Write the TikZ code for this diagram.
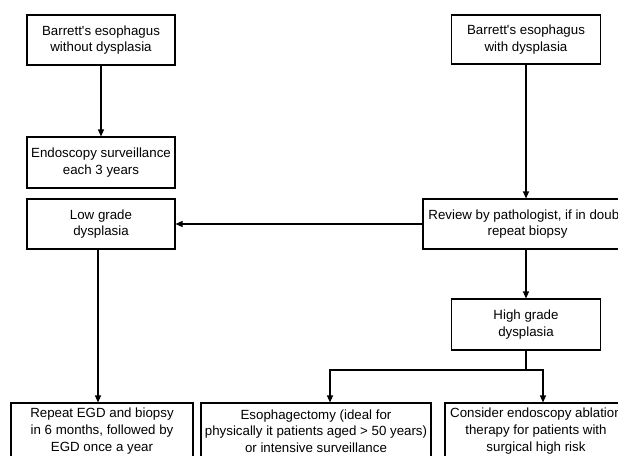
\documentclass[tikz,border=0pt]{standalone}
\usepackage{fontspec}
\setmainfont{Liberation Sans}
\usetikzlibrary{arrows.meta}

\begin{document}
\begin{tikzpicture}[x=1pt, y=-1pt, >={Triangle[length=7pt,width=6pt]},
  box/.style={draw, line width=1.1pt, align=center, inner sep=1pt,
    font=\fontsize{13.3}{16.7}\selectfont},
  flow/.style={->, line width=1.1pt}]
  \useasboundingbox (0,0) rectangle (618,455);
  \clip (0,0) rectangle (618,455);
  % Left column
  \node[box, minimum width=148pt, minimum height=50pt] (nodys) at (101,40)
    {Barrett\textquotesingle s esophagus\\without dysplasia};
  \node[box, minimum width=148pt, minimum height=51pt] (surv) at (101,162.5)
    {Endoscopy surveillance\\each 3 years};
  \node[box, minimum width=148pt, minimum height=50pt] (lowgr) at (101,224)
    {Low grade\\dysplasia};
  % Right column
  \node[box, minimum width=149pt, minimum height=49pt] (withdys) at (526,39.5)
    {Barrett\textquotesingle s esophagus\\with dysplasia};
  \node[box, minimum width=209pt, minimum height=50pt] (review) at (527.5,224)
    {Review by pathologist, if in doubt,\\repeat biopsy};
  \node[box, minimum width=149pt, minimum height=51pt] (highgr) at (526,324.5)
    {High grade\\dysplasia};
  % Bottom row
  \node[box, minimum width=182pt, minimum height=56pt] (repeat) at (102,431)
    {Repeat EGD and biopsy\\in 6 months, followed by\\EGD once a year};
  \node[box, minimum width=230pt, minimum height=56pt] (esoph) at (316,431)
    {Esophagectomy (ideal for\\physically it patients aged > 50 years)\\or intensive surveillance};
  \node[box, minimum width=182pt, minimum height=56pt] (ablat) at (536,431)
    {Consider endoscopy ablation\\therapy for patients with\\surgical high risk};
  % Connectors
  \draw[flow] (nodys) -- (surv);
  \draw[flow] ([xshift=-3pt]lowgr.south) -- ([xshift=-3pt]lowgr.south |- repeat.north);
  \draw[flow] (withdys) -- (withdys |- review.north);
  \draw[flow] (review.west) -- (lowgr.east);
  \draw[flow] (highgr.north |- review.south) -- (highgr.north);
  \coordinate (split) at (526,370);
  \draw[line width=1.1pt] (highgr.south -| split) -- (split);
  \draw[flow] (split) -| ([xshift=14pt]esoph.north);
  \draw[flow] (split) -| ([xshift=7pt]ablat.north);
\end{tikzpicture}
\end{document}
